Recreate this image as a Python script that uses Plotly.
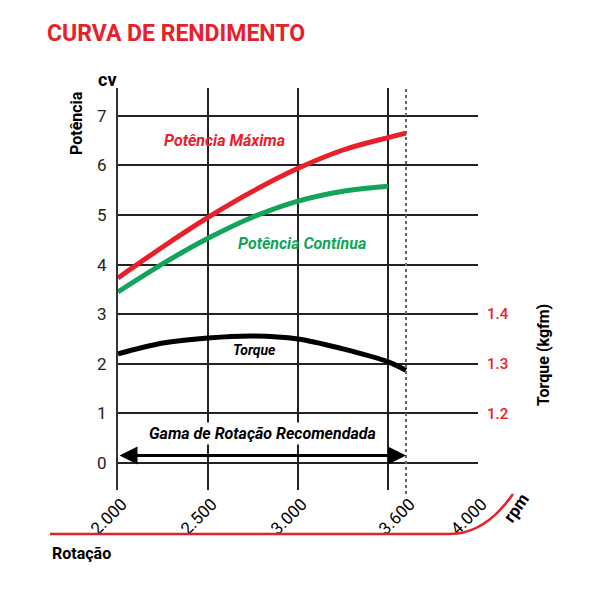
import plotly.graph_objects as go

# ---- data ----
rpm_max = [2000, 2250, 2500, 2750, 3000, 3250, 3500, 3600]
pot_max = [3.73, 4.36, 4.95, 5.48, 5.94, 6.31, 6.56, 6.65]

rpm_cont = [2000, 2250, 2500, 2750, 3000, 3250, 3500]
pot_cont = [3.45, 4.02, 4.53, 4.96, 5.28, 5.48, 5.58]

rpm_torque = [2000, 2250, 2500, 2750, 3000, 3250, 3500, 3600]
torque = [1.320, 1.342, 1.352, 1.356, 1.350, 1.330, 1.304, 1.287]

grid_rpm = [2000, 2500, 3000, 3500, 4000]
rpm_tick_vals = [2000, 2500, 3000, 3600, 4000]
rpm_tick_text = ["2.000", "2.500", "3.000", "3.600", "4.000"]
cv_ticks = [0, 1, 2, 3, 4, 5, 6, 7]
torque_ticks = [1.2, 1.3, 1.4]
torque_tick_text = ["1.2", "1.3", "1.4"]
range_start, range_end = 2000, 3600

RED = "#e8202a"
GREEN = "#12a45a"
FONT = "Roboto, Liberation Sans, sans-serif"

cv_range = [-0.545, 7.56]
torque_range = [1.1 + 0.1 * v for v in cv_range]

fig = go.Figure()
fig.add_trace(go.Scatter(x=rpm_max, y=pot_max, mode="lines", line=dict(color=RED, width=5, shape="spline"),
                         xaxis="x", yaxis="y", hoverinfo="skip"))
fig.add_trace(go.Scatter(x=rpm_cont, y=pot_cont, mode="lines", line=dict(color=GREEN, width=5, shape="spline"),
                         xaxis="x", yaxis="y", hoverinfo="skip"))
fig.add_trace(go.Scatter(x=rpm_torque, y=torque, mode="lines", line=dict(color="black", width=5, shape="spline"),
                         xaxis="x", yaxis="y2", hoverinfo="skip"))
# invisible trace so the labelling x axis is drawn
fig.add_trace(go.Scatter(x=[range_start], y=[0], mode="markers", marker=dict(opacity=0), xaxis="x2", yaxis="y",
                         hoverinfo="skip"))

fig.update_layout(
    width=600, height=600,
    margin=dict(l=118, r=122, t=88, b=110),
    paper_bgcolor="white", plot_bgcolor="white",
    showlegend=False,
    font=dict(family=FONT, color="black"),
    xaxis=dict(range=[2000, 4000], tickmode="array", tickvals=grid_rpm, showticklabels=False,
               showgrid=True, gridcolor="#222", gridwidth=2, zeroline=False, showline=False, ticks=""),
    xaxis2=dict(range=[2000, 4000], overlaying="x", side="bottom", tickmode="array",
                tickvals=rpm_tick_vals, ticktext=rpm_tick_text, tickangle=-45,
                tickfont=dict(size=17, family=FONT, color="black"), showgrid=False, zeroline=False,
                showline=False, ticks="", ticklabelstandoff=0, ticklabelshift=4),
    yaxis=dict(range=cv_range, tickmode="array", tickvals=cv_ticks, showgrid=True, gridcolor="#222",
               gridwidth=1.5, zeroline=False, showline=True, linecolor="#333", linewidth=2,
               tickfont=dict(size=17, family=FONT, color="#222"), ticks="", ticklabelstandoff=6),
    yaxis2=dict(range=torque_range, overlaying="y", side="right", tickmode="array",
                tickvals=torque_ticks, ticktext=torque_tick_text, showgrid=False, zeroline=False,
                tickfont=dict(size=15, family=FONT, color=RED, weight=500), ticks="", ticklabelstandoff=8),
)

# dotted line at max rpm
fig.add_shape(type="line", x0=range_end, x1=range_end, xref="x", yref="paper", y0=-0.01, y1=1,
              line=dict(color="#666", width=2, dash="dot"))

# recommended range arrow
fig.add_annotation(x=range_end, y=0.15, ax=range_start, ay=0.15, xref="x", yref="y", axref="x", ayref="y",
                   text="", showarrow=True, arrowhead=2, arrowside="end+start", arrowsize=1.2,
                   arrowwidth=3, arrowcolor="black")

bi = dict(family=FONT, size=16, weight="bold", style="italic")
fig.add_annotation(x=2590, y=6.5, text="Potência Máxima", showarrow=False, xref="x", yref="y",
                   font=dict(**bi, color=RED))
fig.add_annotation(x=3020, y=4.42, text="Potência Contínua", showarrow=False, xref="x", yref="y",
                   font=dict(**bi, color=GREEN))
fig.add_annotation(x=2760, y=2.27, text="Torque", showarrow=False, xref="x", yref="y",
                   font=dict(family=FONT, size=14, weight="bold", style="italic", color="black"))
fig.add_annotation(x=2805, y=0.6, text="Gama de Rotação Recomendada", showarrow=False, xref="x", yref="y",
                   bgcolor="white", font=dict(family=FONT, size=16, weight="bold", style="italic", color="black"))


def px(xp, yp):
    return (xp - 118) / 360, (490 - yp) / 402


tx, ty = px(45, 33)
fig.add_annotation(x=tx, y=ty, xref="paper", yref="paper", text="CURVA DE RENDIMENTO", showarrow=False,
                   xanchor="left", yanchor="middle", font=dict(family=FONT, size=23, weight="bold", color=RED))
cx, cy = px(107, 79)
fig.add_annotation(x=cx, y=cy, xref="paper", yref="paper", text="cv", showarrow=False,
                   xanchor="center", yanchor="middle", font=dict(family=FONT, size=18, weight="bold"))
pxx, pyy = px(76, 123)
fig.add_annotation(x=pxx, y=pyy, xref="paper", yref="paper", text="Potência", showarrow=False, textangle=-90,
                   xanchor="center", yanchor="middle", font=dict(family=FONT, size=16, weight="bold"))
qx, qy = px(543, 355)
fig.add_annotation(x=qx, y=qy, xref="paper", yref="paper", text="Torque (kgfm)", showarrow=False, textangle=-90,
                   xanchor="center", yanchor="middle", font=dict(family=FONT, size=16, weight="bold"))
rx, ry = px(50, 553)
fig.add_annotation(x=rx, y=ry, xref="paper", yref="paper", text="Rotação", showarrow=False,
                   xanchor="left", yanchor="middle", font=dict(family=FONT, size=16, weight="bold"))
mx, my = px(516, 508)
fig.add_annotation(x=mx, y=my, xref="paper", yref="paper", text="rpm", showarrow=False, textangle=-55,
                   xanchor="center", yanchor="middle", font=dict(family=FONT, size=17, weight="bold"))

# decorative red baseline curve
a = px(50, 534); b = px(450, 534); c = px(485, 534); d = px(513, 494)
fig.add_shape(type="path", xref="paper", yref="paper",
              path=f"M {a[0]},{a[1]} L {b[0]},{b[1]} Q {c[0]},{c[1]} {d[0]},{d[1]}",
              line=dict(color=RED, width=2.5))

fig.write_html("out.html")
